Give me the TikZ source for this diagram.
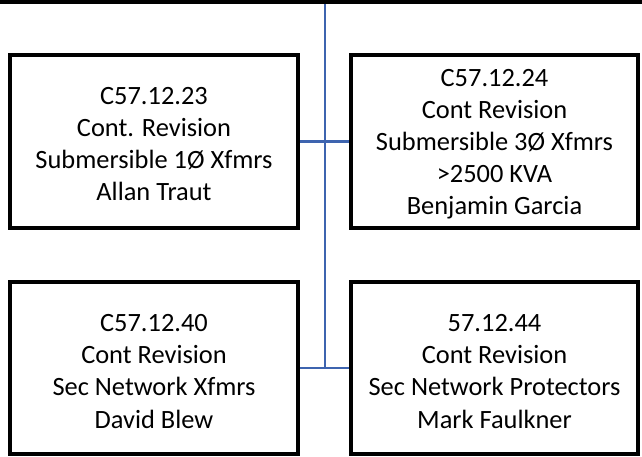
\documentclass[tikz,border=0pt]{standalone}
\usepackage{fontspec}
\setmainfont{Carlito}
\definecolor{linkblue}{RGB}{62,100,175}
\begin{document}
\begin{tikzpicture}[x=1pt,y=-1pt,
  card/.style={draw=black, line width=4pt, fill=white, inner sep=0pt,
    minimum width=288pt, minimum height=173pt},
  cardtext/.style={align=center, inner sep=0pt,
    font=\fontsize{26.4}{32.2}\selectfont},
  link/.style={draw=linkblue, line width=2.6pt}]
\useasboundingbox (0,0) rectangle (642,456);
% bottom edge of the parent box above
\node[fill=black, inner sep=0pt, minimum width=642pt, minimum height=4pt, anchor=north west] (bar) at (0,0) {};
\coordinate (spine) at (325,368);
\draw[link] (bar.south -| spine) -- (spine);
% boxes
\node[card] (tl) at (154,141.2) {};
\node[card, minimum width=287pt] (tr) at (494.5,141.2) {};
\node[card, minimum height=172.5pt] (bl) at (154,367.8) {};
\node[card, minimum width=287pt, minimum height=172.5pt] (br) at (494.5,367.8) {};
% box texts
\node[cardtext] (tl-t) at ([yshift=-3pt]tl.center) {C57.12.23\\Cont. Revision\\Submersible 1Ø Xfmrs\\Allan Traut};
\node[cardtext] (tr-t) at ([yshift=-3pt]tr.center) {C57.12.24\\Cont Revision\\Submersible 3Ø Xfmrs\\>2500 KVA\\Benjamin Garcia};
\node[cardtext] (bl-t) at ([yshift=-3.5pt]bl.center) {C57.12.40\\Cont Revision\\Sec Network Xfmrs\\David Blew};
\node[cardtext] (br-t) at ([yshift=-3.5pt]br.center) {57.12.44\\Cont Revision\\Sec Network Protectors\\Mark Faulkner};
% connectors
\draw[link] (tl.east) -- (tr.west);
\draw[link] (bl.east) -- (br.west);
\end{tikzpicture}
\end{document}
